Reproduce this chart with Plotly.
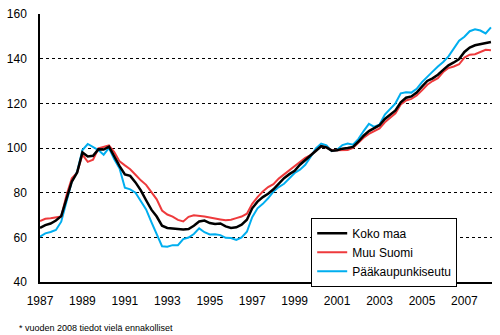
import plotly.graph_objects as go

start_year = 1987.0
step = 0.25

koko_maa = [64.2, 65.5, 66.2, 67.5, 69.5, 77, 85, 89, 98, 96.2, 96.5, 99.4, 99.3, 100.6, 96.2, 91.9,
            88.2, 87.5, 84.6, 81, 76.6, 72.4, 69.3, 65.2, 64.2, 64, 63.8, 63.5, 63.7, 65.2, 67.1, 67.5,
            66.4, 66, 66.2, 64.9, 64.2, 64.5, 65.7, 67.9, 73, 76, 78, 79.5, 81.5, 84, 86.5, 88.3,
            89.8, 92.5, 94.5, 96.5, 98.5, 100.8, 100.3, 98.8, 99, 99.7, 100, 100.5, 102.8, 105.5, 107.6, 108.8,
            110.2, 113, 114.8, 116.8, 120.5, 122.5, 123.1, 124.8, 127.5, 130, 131.2, 132.8, 135, 137, 138.3, 139.8,
            143, 145, 146, 146.5, 147, 147.5]

muu_suomi = [67.3, 68.3, 68.5, 68.8, 69.3, 79, 86.5, 89, 97, 93.8, 94.8, 99.8, 100.4, 101.2, 98.2, 94,
             92.2, 90.5, 88, 85.5, 83.5, 80.5, 77, 72, 70.2, 69.3, 67.8, 67.1, 69.2, 69.9, 69.7, 69.3,
             68.9, 68.6, 68, 67.6, 67.9, 68.6, 69.3, 70.6, 75, 78, 80.5, 82.5, 83.8, 86.3, 88.2, 89.8,
             91.8, 94, 95.6, 96.8, 98.8, 100.8, 100.2, 99, 99, 99, 99.1, 100, 102.5, 104.6, 106.3, 107.4,
             108.8, 111.5, 113.5, 115.5, 119.5, 121.3, 122, 123.5, 125.8, 128.3, 130, 131.3, 134, 135.8, 136.5, 137.5,
             140.5, 141.8, 142, 143, 144, 143.8]

paakaupunkiseutu = [60.3, 61.8, 62.4, 63.3, 67, 76, 85, 89.5, 99.1, 101.8, 100.4, 99.1, 97, 100, 95, 90.8,
                    82.2, 81.5, 80, 76.5, 72.5, 66.8, 61, 56, 55.8, 56.5, 56.5, 59.2, 59.9, 61.5, 64, 62.3,
                    61.3, 61.4, 61, 59.8, 59.7, 58.8, 60, 62.5, 69, 73, 75, 77.5, 80.5, 82.5, 84, 86.5,
                    88.8, 90.3, 92.5, 96, 99.8, 102, 101.2, 98.6, 99.2, 101.3, 102, 101.5, 104, 107.6, 110.8, 109.5,
                    110.5, 115, 117.5, 120, 124.5, 125, 124.8, 126.5, 129.5, 132, 134.2, 136.5, 138.5, 141, 144.5, 148,
                    149.8, 152.3, 153.2, 152.6, 151.3, 154]

x_ticks = [1987, 1989, 1991, 1993, 1995, 1997, 1999, 2001, 2003, 2005, 2007]
y_ticks = [40, 60, 80, 100, 120, 140, 160]

names = ["Koko maa", "Muu Suomi", "Pääkaupunkiseutu"]
colors = ["#000000", "#EE3A3C", "#00AEEF"]

x = [start_year + i * step for i in range(len(koko_maa))]

fig = go.Figure()
# draw order: blue, red, black (black on top)
fig.add_trace(go.Scatter(x=x, y=paakaupunkiseutu, mode="lines", name=names[2],
                         line=dict(color=colors[2], width=2), legendrank=3))
fig.add_trace(go.Scatter(x=x, y=muu_suomi, mode="lines", name=names[1],
                         line=dict(color=colors[1], width=2), legendrank=2))
fig.add_trace(go.Scatter(x=x, y=koko_maa, mode="lines", name=names[0],
                         line=dict(color=colors[0], width=2.5), legendrank=1))

font_family = "Liberation Sans, Arial, sans-serif"

fig.update_layout(
    width=500, height=335,
    margin=dict(l=32, r=8, t=7, b=53),
    paper_bgcolor="white", plot_bgcolor="white",
    font=dict(family=font_family, size=12, color="black"),
    showlegend=True,
    legend=dict(
        x=0.60, y=0.24, xanchor="left", yanchor="top",
        bgcolor="white", bordercolor="black", borderwidth=1,
        font=dict(family=font_family, size=12, color="black"),
        itemwidth=30, tracegroupgap=0,
    ),
    xaxis=dict(
        range=[1987, 2008.3],
        tickmode="array", tickvals=x_ticks, ticktext=[str(v) for v in x_ticks],
        showgrid=False, zeroline=False,
        showline=True, linecolor="black", linewidth=1.5,
        ticks="", ticklabelstandoff=7,
        tickfont=dict(size=12),
    ),
    yaxis=dict(
        range=[40, 160],
        tickmode="array", tickvals=y_ticks, ticktext=[str(v) for v in y_ticks],
        showgrid=True, gridcolor="black", gridwidth=1, griddash="3px,3px",
        zeroline=False,
        showline=True, linecolor="black", linewidth=1.5,
        ticks="", ticklabelstandoff=9,
        tickfont=dict(size=12),
    ),
    annotations=[dict(
        text="* vuoden 2008 tiedot vielä ennakolliset",
        xref="paper", yref="paper", x=-0.05, y=-0.145,
        xanchor="left", yanchor="top", showarrow=False,
        font=dict(family=font_family, size=9, color="black"),
    )],
)

fig.write_html("out.html")
